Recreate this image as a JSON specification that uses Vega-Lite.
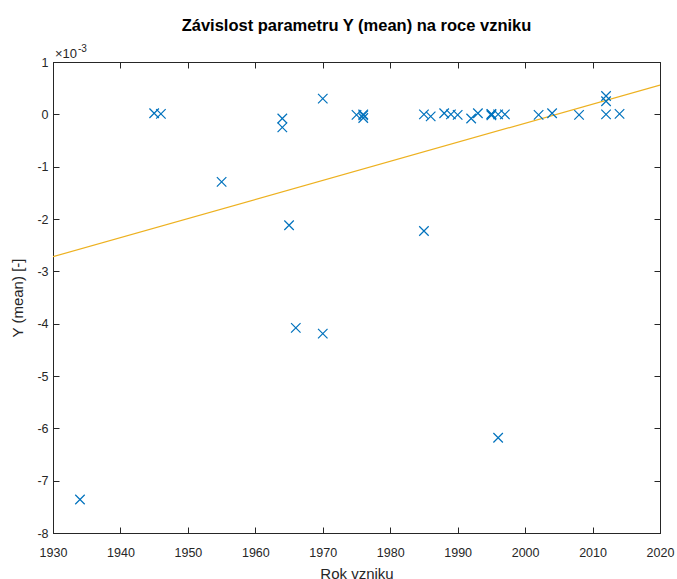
{
  "$schema": "https://vega.github.io/schema/vega-lite/v6.json",
  "width": 607,
  "height": 471,
  "autosize": "none",
  "padding": {"left": 53, "top": 62, "right": 16, "bottom": 46},
  "background": "white",
  "title": {
    "text": "Závislost parametru Y (mean) na roce vzniku",
    "font": "Liberation Sans",
    "fontSize": 16.5,
    "fontWeight": "bold",
    "color": "#000000",
    "anchor": "middle",
    "offset": 10
  },
  "config": {
    "view": {"stroke": "#262626", "strokeWidth": 1},
    "axis": {
      "grid": false,
      "domainColor": "#262626",
      "domainWidth": 1,
      "tickColor": "#262626",
      "tickWidth": 1,
      "tickSize": -6,
      "labelFont": "Liberation Sans",
      "labelFontSize": 12.5,
      "labelColor": "#262626",
      "labelFlush": false,
      "labelOverlap": false,
      "titleFont": "Liberation Sans",
      "titleFontSize": 15,
      "titleFontWeight": "normal",
      "titleColor": "#262626"
    }
  },
  "datasets": {
    "pts": [
      {"rok": 1934, "y": -0.00736},
      {"rok": 1945, "y": 0.00002},
      {"rok": 1946, "y": 0.00001},
      {"rok": 1955, "y": -0.00129},
      {"rok": 1964, "y": -0.00008},
      {"rok": 1964, "y": -0.00025},
      {"rok": 1965, "y": -0.00212},
      {"rok": 1966, "y": -0.00408},
      {"rok": 1970, "y": 0.0003},
      {"rok": 1970, "y": -0.00419},
      {"rok": 1975, "y": -0.00001},
      {"rok": 1976, "y": 0.0},
      {"rok": 1976, "y": -0.00007},
      {"rok": 1976, "y": -0.00002},
      {"rok": 1985, "y": 0.0},
      {"rok": 1985, "y": -0.00223},
      {"rok": 1986, "y": -0.00004},
      {"rok": 1988, "y": 0.00002},
      {"rok": 1989, "y": 0.0},
      {"rok": 1990, "y": -0.00001},
      {"rok": 1992, "y": -0.00008},
      {"rok": 1993, "y": 0.00002},
      {"rok": 1995, "y": 0.0},
      {"rok": 1995, "y": -0.00002},
      {"rok": 1995, "y": 0.00001},
      {"rok": 1996, "y": 0.0},
      {"rok": 1996, "y": -0.00618},
      {"rok": 1997, "y": 0.0},
      {"rok": 2002, "y": -0.00001},
      {"rok": 2004, "y": 0.00002},
      {"rok": 2008, "y": -0.00001},
      {"rok": 2012, "y": 0.0},
      {"rok": 2012, "y": 0.00035},
      {"rok": 2012, "y": 0.00025},
      {"rok": 2014, "y": 0.00001}
    ],
    "fit": [
      {"rok": 1930, "y": -0.00272},
      {"rok": 2020, "y": 0.00056}
    ]
  },
  "layer": [
    {
      "data": {"name": "fit"},
      "mark": {"type": "line", "color": "#EDB120", "strokeWidth": 1.2, "clip": true},
      "encoding": {
        "x": {
          "field": "rok", "type": "quantitative",
          "scale": {"domain": [1930, 2020], "nice": false, "zero": false},
          "axis": {
            "orient": "bottom",
            "title": "Rok vzniku",
            "values": [1930, 1940, 1950, 1960, 1970, 1980, 1990, 2000, 2010, 2020],
            "format": "d",
            "labelPadding": 19,
            "titlePadding": 8
          }
        },
        "y": {
          "field": "y", "type": "quantitative",
          "scale": {"domain": [-0.008, 0.001], "nice": false, "zero": false},
          "axis": {
            "orient": "left",
            "title": "Y (mean) [-]",
            "values": [-0.008, -0.007, -0.006, -0.005, -0.004, -0.003, -0.002, -0.001, 0, 0.001],
            "labelExpr": "toString(round(datum.value * 1000))",
            "labelPadding": 11,
            "titlePadding": 11
          }
        }
      }
    },
    {
      "data": {"name": "pts"},
      "mark": {
        "type": "point",
        "shape": "M-1,-1L1,1M1,-1L-1,1",
        "filled": false,
        "stroke": "#0072BD",
        "strokeWidth": 1.2,
        "size": 90,
        "opacity": 1
      },
      "encoding": {
        "x": {
          "field": "rok", "type": "quantitative",
          "scale": {"domain": [1930, 2020], "nice": false, "zero": false},
          "axis": {
            "orient": "top", "title": null, "labels": false,
            "values": [1930, 1940, 1950, 1960, 1970, 1980, 1990, 2000, 2010, 2020]
          }
        },
        "y": {
          "field": "y", "type": "quantitative",
          "scale": {"domain": [-0.008, 0.001], "nice": false, "zero": false},
          "axis": {
            "orient": "right", "title": null, "labels": false,
            "values": [-0.008, -0.007, -0.006, -0.005, -0.004, -0.003, -0.002, -0.001, 0, 0.001]
          }
        }
      }
    },
    {
      "data": {"values": [{"t": "×10"}]},
      "mark": {
        "type": "text",
        "font": "Liberation Sans",
        "fontSize": 13,
        "color": "#262626",
        "align": "left",
        "baseline": "alphabetic",
        "dx": 2,
        "dy": -4
      },
      "encoding": {
        "x": {"datum": 1930, "type": "quantitative", "axis": null},
        "y": {"datum": 0.001, "type": "quantitative", "axis": null},
        "text": {"field": "t"}
      }
    },
    {
      "data": {"values": [{"t": "-3"}]},
      "mark": {
        "type": "text",
        "font": "Liberation Sans",
        "fontSize": 10,
        "color": "#262626",
        "align": "left",
        "baseline": "alphabetic",
        "dx": 25,
        "dy": -10
      },
      "encoding": {
        "x": {"datum": 1930, "type": "quantitative", "axis": null},
        "y": {"datum": 0.001, "type": "quantitative", "axis": null},
        "text": {"field": "t"}
      }
    }
  ],
  "resolve": {"axis": {"x": "independent", "y": "independent"}}
}
